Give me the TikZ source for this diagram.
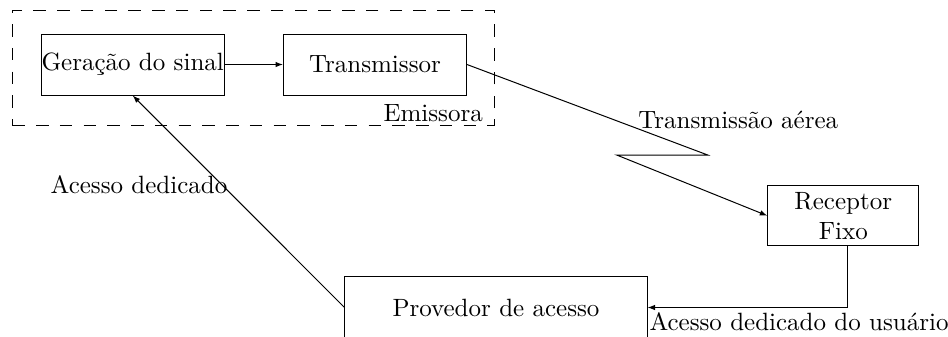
\documentclass[tikz,border=0pt]{standalone}
\usetikzlibrary{arrows.meta}
\begin{document}
\begin{tikzpicture}[x=0.4pt,y=-0.4pt,
  box/.style={draw,inner sep=0pt,align=center,font=\normalsize},
  arr/.style={-{Latex[length=3pt,width=2.2pt]}},
  lbl/.style={inner sep=0pt}]
\useasboundingbox (0,0) rectangle (948,336);
% emitter group
\node[draw,dash pattern=on 5pt off 4.5pt,minimum width=192.7pt,minimum height=46pt,inner sep=0pt] (emis) at (253.2,67.5) {};
\node[lbl,anchor=base east] (emislbl) at (483.3,121.7) {Emissora};
\node[box,minimum width=73.2pt,minimum height=24.4pt] (ger) at (132.7,64.5) {Geração do sinal};
\node[box,minimum width=73.2pt,minimum height=24.4pt] (tra) at (375,64.5) {Transmissor};
\node[box,minimum width=60.4pt,minimum height=24pt] (rec) at (843.3,215.7) {Receptor\\Fixo};
\node[box,minimum width=120.8pt,minimum height=25pt] (prov) at (496,307.5) {Provedor de acesso};
% zigzag coordinates
\coordinate (z1) at (707.7,155);
\coordinate (z2) at (616.7,155);
\coordinate (c3) at (847.3,307.5);
% connectors
\draw[arr] (ger.east) -- (tra.west);
\draw[arr] (tra.east) -- (z1) -- (z2) -- (rec.west);
\draw[arr] (c3 |- rec.south) -- (c3) -- (prov.east);
\draw[arr] (prov.west) -- (ger.south);
% labels
\node[lbl,anchor=base] (ltx) at (738.3,128) {Transmissão aérea};
\node[lbl,anchor=base] (lad) at (139,193) {Acesso dedicado};
\node[lbl,anchor=base west] (ladu) at (649,330) {Acesso dedicado do usuário};
\end{tikzpicture}
\end{document}
